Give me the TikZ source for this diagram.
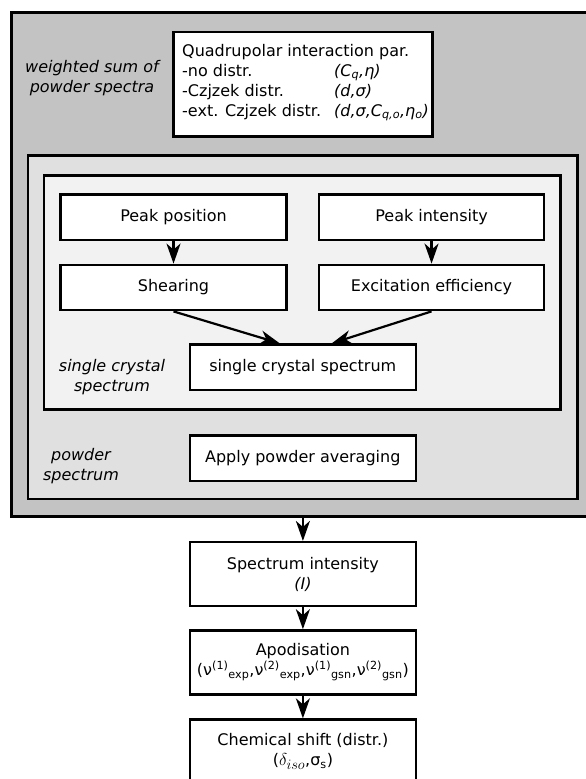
\documentclass[tikz,border=0pt]{standalone}
\usepackage{fontspec}
\setmainfont{DejaVu Sans}
\usetikzlibrary{arrows.meta,calc}
\definecolor{gOuter}{RGB}{195,195,195}
\definecolor{gMid}{RGB}{224,224,224}
\definecolor{gInner}{RGB}{242,242,242}
\begin{document}
\begin{tikzpicture}[x=1pt,y=-1pt,
  every node/.style={font=\fontsize{16}{20}\selectfont},
  container/.style={draw, rectangle, inner sep=0pt, line width=2.4pt},
  procbox/.style={draw, fill=white, rectangle, inner sep=0pt, line width=2.3pt, minimum width=226pt, align=center},
  smallbox/.style={procbox, minimum height=45.5pt},
  tallbox/.style={procbox, minimum height=64pt},
  grouplabel/.style={align=center, font=\fontsize{16}{20}\selectfont\itshape},
  arr/.style={-{Stealth[length=20pt,width=14pt,inset=6pt]}, line width=2.2pt}
]
\useasboundingbox (0,0) rectangle (586,779);

% containers
\node[container, fill=gOuter, line width=3pt, minimum width=583.3pt, minimum height=503.9pt] (outer) at (303.35,264.75) {};
\node[procbox, line width=2.6pt, minimum width=259.4pt, minimum height=104.3pt] (quad) at (303,84.15) {};
\node[anchor=west, inner sep=0pt] (quadtext) at (182,82) {%
  \begin{tabular}{@{}p{152pt}@{}l@{}}
  \multicolumn{2}{@{}l@{}}{Quadrupolar interaction par.}\\
  -no distr. & \textit{(C\textsubscript{q},η)}\\
  -Czjzek distr. & \textit{(d,σ)}\\
  -ext. Czjzek distr. & \textit{(d,σ,C\textsubscript{q,o},η\textsubscript{o})}
  \end{tabular}};
\node[container, fill=gMid, minimum width=549.3pt, minimum height=343.7pt] (mid) at (302.65,327.15) {};
\node[container, fill=gInner, minimum width=516.5pt, minimum height=234.2pt] (inner) at (302.25,292.4) {};

% group labels
\node[grouplabel] (lwsum) at (92,78.3) {weighted sum of\\powder spectra};
\node[grouplabel] (lsc) at (112,377) {single crystal\\spectrum};
\node[grouplabel] (lpw) at (81,466) {powder\\spectrum};

% process boxes
\node[smallbox] (pp) at (173.5,217.25) {Peak position};
\node[smallbox] (sh) at (173.5,287.5) {Shearing};
\node[smallbox, minimum width=225.5pt] (pi) at (431.55,217.25) {Peak intensity};
\node[smallbox, minimum width=225.5pt] (ex) at (431.55,287.5) {Excitation efficiency};
\node[smallbox] (sc) at (302.75,367.25) {single crystal spectrum};
\node[smallbox] (apw) at (302.75,458.25) {Apply powder averaging};

\node[tallbox] (spi) at (302.9,574.1) {Spectrum intensity\\\textit{(I)}};
\node[tallbox] (apod) at (302.9,662.35) {Apodisation\\(ν\textsuperscript{(1)}\textsubscript{exp},ν\textsuperscript{(2)}\textsubscript{exp},ν\textsuperscript{(1)}\textsubscript{gsn},ν\textsuperscript{(2)}\textsubscript{gsn})};
\node[tallbox] (chem) at (302.9,751.5) {Chemical shift (distr.)\\({\fontsize{19}{20}\selectfont$\delta_{iso}$},σ\textsubscript{s})};

% connectors
\draw[arr] (pp) -- (sh);
\draw[arr] (pi) -- (ex);
\draw[arr] (sh.south) -- ($(sc.north)+(-23,0)$);
\draw[arr] (ex.south) -- ($(sc.north)+(29,0)$);
\draw[arr] (spi.north |- outer.south) -- (spi.north);
\draw[arr] (spi) -- (apod);
\draw[arr] (apod) -- (chem);
\end{tikzpicture}
\end{document}
